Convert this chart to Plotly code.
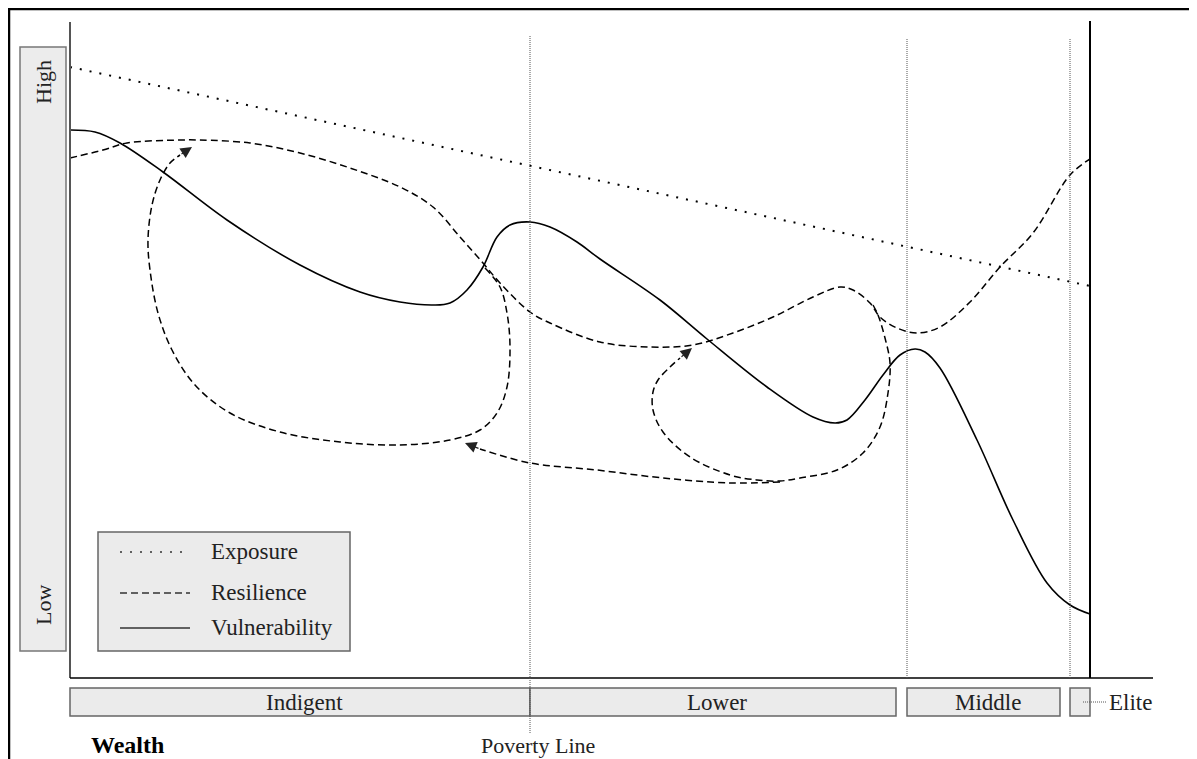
import plotly.graph_objects as go

# ---------------- data (wealth index on x, level on y) ----------------
exposure_x = [0, 1020]
exposure_y = [611, 392]

vuln_x = [0, 25, 50, 93, 157, 230, 290, 330, 363, 380, 397, 413, 427, 440, 460, 480, 507, 530,
          590, 637, 697, 743, 765, 777, 795, 813, 830, 845, 855, 870, 907, 943, 977, 1000, 1020]
vuln_y = [548, 546, 535, 506, 458, 413, 386, 376, 373, 375, 388, 411, 441, 453, 456, 451, 436, 419,
          378, 339, 291, 261, 255, 258, 278, 303, 323, 329, 326, 310, 238, 158, 95, 73, 64]

res_x = [0, 33, 57, 110, 130, 180, 230, 280, 330, 363, 390, 413, 430, 460, 480, 530, 580, 623,
         663, 703, 743, 770, 783, 800, 810, 827, 847, 870, 900, 930, 963, 1000, 1020]
res_y = [520, 528, 535, 538, 538, 535, 525, 510, 491, 471, 441, 415, 395, 366, 355, 336, 331, 333,
         345, 361, 381, 391, 388, 375, 361, 350, 345, 351, 376, 411, 445, 503, 519]

loopA_x = [415, 430, 437, 440, 437, 427, 410, 380, 330, 270, 210, 160, 125, 102, 88, 80, 78, 82,
           90, 100, 110]
loopA_y = [410, 391, 365, 331, 291, 265, 248, 238, 233, 236, 246, 265, 293, 328, 365, 408, 438, 473,
           498, 515, 523]
loopA_tip = (122, 531)

loopB_x = [803, 808, 815, 820, 818, 810, 793, 767, 730, 710, 687, 660, 620, 593, 583, 583, 588,
           600, 610]
loopB_y = [373, 363, 340, 315, 285, 251, 225, 208, 200, 197, 198, 203, 221, 246, 268, 286, 298,
           311, 320]
loopB_tip = (622, 330)

drop_x = [710, 660, 593, 527, 460, 413, 410]
drop_y = [196, 195, 200, 208, 215, 228, 229]
drop_tip = (395, 235)

classes = ["Indigent", "Lower", "Middle", "Elite"]
class_start = [0, 460, 837, 1000]
class_end = [460, 826, 990, 1020]
dividers = [460, 837, 1000]

legend_names = ["Exposure", "Resilience", "Vulnerability"]
legend_levels = [126, 85, 50]

FONT = "Liberation Serif"
DOT = "2px,8px"
DASH = "7px,4px"

fig = go.Figure()

fig.add_trace(go.Scatter(x=exposure_x, y=exposure_y, mode="lines",
                         line=dict(color="black", width=2, dash=DOT), hoverinfo="skip"))
fig.add_trace(go.Scatter(x=res_x, y=res_y, mode="lines",
                         line=dict(color="black", width=1.5, dash=DASH, shape="spline", smoothing=1),
                         hoverinfo="skip"))
for lx, ly in [(loopA_x, loopA_y), (loopB_x, loopB_y), (drop_x, drop_y)]:
    fig.add_trace(go.Scatter(x=lx, y=ly, mode="lines",
                             line=dict(color="black", width=1.5, dash=DASH, shape="spline", smoothing=1),
                             hoverinfo="skip"))
fig.add_trace(go.Scatter(x=vuln_x, y=vuln_y, mode="lines",
                         line=dict(color="black", width=1.6, shape="spline", smoothing=1),
                         hoverinfo="skip"))

shapes = []
ann = []

# outer frame
shapes.append(dict(type="rect", x0=-61, x1=1125, y0=-120, y1=669,
                   line=dict(color="black", width=2.5), fillcolor="rgba(0,0,0,0)", layer="below"))
# left level bar
shapes.append(dict(type="rect", x0=-50, x1=-4, y0=27, y1=631,
                   line=dict(color="#777", width=1.5), fillcolor="#ececec", layer="below"))
# y axis line
shapes.append(dict(type="line", x0=0, x1=0, y0=0, y1=656, line=dict(color="#555", width=2)))
# x axis line
shapes.append(dict(type="line", x0=0, x1=1083, y0=0, y1=0, line=dict(color="black", width=1.5)))
# right boundary
shapes.append(dict(type="line", x0=1020, x1=1020, y0=0, y1=657, line=dict(color="black", width=2)))
# dividers
for i, d in enumerate(dividers):
    y0 = -55 if i == 0 else 0
    y1 = 643 if i == 0 else 640
    shapes.append(dict(type="line", x0=d, x1=d, y0=y0, y1=y1,
                       line=dict(color="#555", width=1, dash="1px,1px")))
# class bands
for name, a, b in zip(classes, class_start, class_end):
    shapes.append(dict(type="rect", x0=a, x1=b, y0=-38, y1=-10,
                       line=dict(color="#666", width=1.5), fillcolor="#ebebeb", layer="below"))
    if name != "Elite":
        ann.append(dict(x=(a + b) / 2 + 4, y=-24, text=name, showarrow=False,
                        font=dict(family=FONT, size=23, color="#222")))
    else:
        shapes.append(dict(type="line", x0=b - 7, x1=b + 16, y0=-24, y1=-24,
                           line=dict(color="#555", width=1, dash="1px,1px")))
        ann.append(dict(x=b + 17, y=-24, text=name, showarrow=False, xanchor="left",
                        font=dict(family=FONT, size=23, color="#222")))

# legend box
shapes.append(dict(type="rect", x0=28, x1=280, y0=27, y1=146,
                   line=dict(color="#666", width=1.5), fillcolor="#ebebeb", layer="below"))
legend_dash = [DOT, DASH, "solid"]
legend_w = [1.5, 1.3, 1.6]
for name, lv, ds, w in zip(legend_names, legend_levels, legend_dash, legend_w):
    shapes.append(dict(type="line", x0=50, x1=120, y0=lv, y1=lv,
                       line=dict(color="#333", width=w, dash=ds)))
    ann.append(dict(x=139, y=lv + 1, text=name, showarrow=False, xanchor="left",
                    font=dict(family=FONT, size=23, color="#222")))

# level labels
ann.append(dict(x=-27, y=596, text="High", textangle=-90, showarrow=False,
                font=dict(family=FONT, size=22, color="#222")))
ann.append(dict(x=-27, y=73, text="Low", textangle=-90, showarrow=False,
                font=dict(family=FONT, size=22, color="#222")))
# bottom labels
ann.append(dict(x=19, y=-67, text="<b>Wealth</b>", showarrow=False, xanchor="left",
                font=dict(family=FONT, size=24, color="black")))
ann.append(dict(x=468, y=-67, text="Poverty Line", showarrow=False,
                font=dict(family=FONT, size=22, color="#222")))

# arrow heads
for (tx, ty), (sx, sy) in [(loopA_tip, (loopA_x[-1], loopA_y[-1])),
                           (loopB_tip, (loopB_x[-1], loopB_y[-1])),
                           (drop_tip, (drop_x[-1], drop_y[-1]))]:
    ann.append(dict(x=tx, y=ty, ax=sx, ay=sy, axref="x", ayref="y", xref="x", yref="y",
                    text="", showarrow=True, arrowhead=2, arrowsize=1.9, arrowwidth=1.2,
                    arrowcolor="#222", standoff=0, startstandoff=0))

# the page adds an 8px body margin, so the figure is 8px smaller and ranges shifted
fig.update_layout(
    width=1189, height=751, autosize=False,
    margin=dict(l=0, r=0, t=0, b=0, pad=0),
    paper_bgcolor="white", plot_bgcolor="white",
    showlegend=False,
    xaxis=dict(range=[-62, 1127], visible=False, fixedrange=True),
    yaxis=dict(range=[-81, 670], visible=False, fixedrange=True),
    shapes=shapes, annotations=ann,
)

fig.write_html("out.html")
